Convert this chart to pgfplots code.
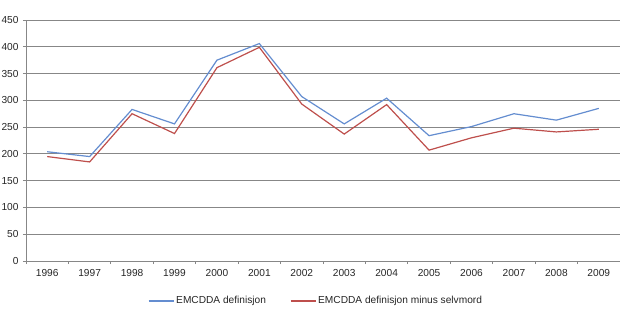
\documentclass[border=0pt]{standalone}
\usepackage{pgfplots}
\pgfplotsset{compat=1.18}
\usepackage{fontspec}
\setmainfont{Liberation Sans}
\definecolor{serblue}{HTML}{648DD0}
\definecolor{serred}{HTML}{BE4F4C}
\definecolor{gridgray}{HTML}{878787}
\begin{document}
\begin{tikzpicture}
\path[use as bounding box] (-26bp,-62bp) rectangle (594bp,261bp);
\begin{axis}[
  scale only axis,
  width=594bp, height=241bp,
  xmin=-0.5, xmax=13.5,
  ymin=0, ymax=450,
  ytick={0,50,...,450},
  xtick={-0.5,0.5,...,13.5},
  xticklabels={1996,1997,1998,1999,2000,2001,2002,2003,2004,2005,2006,2007,2008,2009},
  x tick label as interval,
  axis x line*=bottom,
  axis y line*=left,
  axis line style={gridgray, line width=0.8bp, -},
  ymajorgrids,
  grid style={gridgray, line width=0.9bp},
  tick style={gridgray, line width=0.8bp},
  tick align=outside,
  major tick length=3bp,
  font=\fontsize{10.2}{12}\selectfont,
  tick label style={font=\fontsize{10.2}{12}\selectfont, text=black!85},
  /pgf/number format/assume math mode=true,
  yticklabel style={xshift=-1bp},
  xticklabel style={yshift=-2bp},
  legend columns=2,
  legend style={draw=none, at={(0.5,0)}, anchor=center, yshift=-40bp, xshift=-7bp,
    font=\fontsize{10.2}{12}\selectfont, text=black!85,
    /tikz/every even column/.append style={column sep=22bp}},
  legend image code/.code={\draw[#1] (0bp,0bp) -- (25bp,0bp);},
]
\addplot[serblue, line width=1.2bp] coordinates {
(0,204) (1,195) (2,283) (3,256) (4,375) (5,406) (6,307) (7,256) (8,304) (9,234) (10,251) (11,275) (12,263) (13,285)};
\addlegendentry{EMCDDA definisjon}
\addplot[serred, line width=1.2bp] coordinates {
(0,195) (1,185) (2,275) (3,238) (4,361) (5,399) (6,293) (7,237) (8,292) (9,207) (10,230) (11,248) (12,241) (13,246)};
\addlegendentry{EMCDDA definisjon minus selvmord}
\end{axis}
\end{tikzpicture}
\end{document}
